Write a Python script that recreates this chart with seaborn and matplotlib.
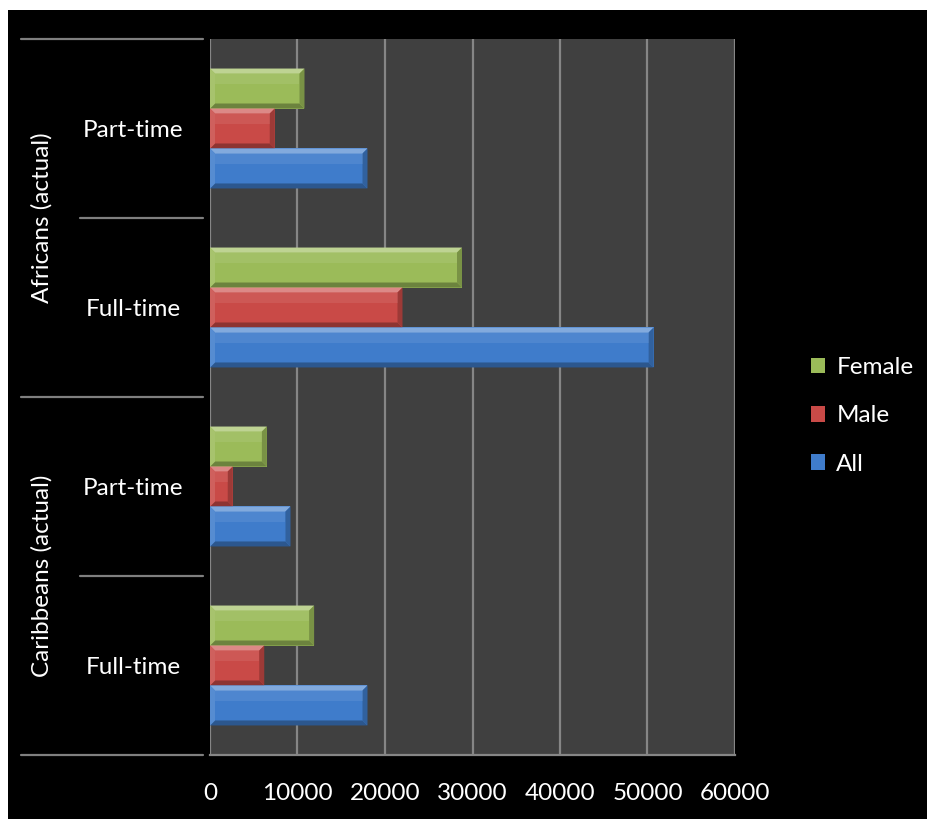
import numpy as np
import pandas as pd
import seaborn as sns
import matplotlib
matplotlib.use("Agg")
import matplotlib.pyplot as plt
from matplotlib.patches import Rectangle, Polygon, Patch
from matplotlib.colors import to_rgb
import matplotlib.transforms as mtransforms

# ---- data -------------------------------------------------------------
groups = ["Africans (actual)", "Africans (actual)", "Caribbeans (actual)", "Caribbeans (actual)"]
statuses = ["Part-time", "Full-time", "Part-time", "Full-time"]
series_names = ["Female", "Male", "All"]
female = [10800, 28800, 6500, 11900]
male = [7400, 22000, 2600, 6200]
all_students = [18000, 50700, 9200, 18000]
x_ticks = [0, 10000, 20000, 30000, 40000, 50000, 60000]

series_colors = {"Female": "#9bbb59", "Male": "#c94a47", "All": "#3f7ccb"}

keys = [f"{g}|{s}" for g, s in zip(groups, statuses)]
rows = []
for name, vals in zip(series_names, [female, male, all_students]):
    for k, v in zip(keys, vals):
        rows.append({"key": k, "series": name, "value": v})
df = pd.DataFrame(rows)

# ---- figure -----------------------------------------------------------
sns.set_theme(style="dark")
plt.rcParams["font.family"] = ["Lato", "DejaVu Sans"]

W, H = 928, 819
fig = plt.figure(figsize=(W / 100, H / 100), dpi=100, facecolor="white")
# black chart area inside a thin white frame
fig.patches.append(Rectangle((8 / W, 0), 1 - 8 / W, 1 - 10 / H,
                             transform=fig.transFigure, facecolor="black",
                             edgecolor="none", zorder=-10))

left, right, top, bottom = 210, 735, 39, 755
ax = fig.add_axes([left / W, 1 - bottom / H, (right - left) / W, (bottom - top) / H])
ax.set_facecolor("#404040")

sns.barplot(data=df, y="key", x="value", hue="series", hue_order=series_names,
            order=keys, palette=series_colors, orient="h", width=0.67,
            saturation=1, edgecolor="none", linewidth=0, legend=False,
            zorder=3, ax=ax)

ax.set_xlim(0, 60000)
ax.set_ylim(3.5, -0.5)
ax.set_xticks(x_ticks)
ax.set_xticklabels([str(t) for t in x_ticks])
ax.set_xlabel("")
ax.set_ylabel("")

grid_col = "#868686"
ax.grid(axis="x", color=grid_col, linewidth=1.6, zorder=1)
ax.grid(axis="y", visible=False)
for side in ["top", "left", "right"]:
    ax.spines[side].set_visible(False)
ax.spines["bottom"].set_color(grid_col)
ax.spines["bottom"].set_linewidth(1.6)

ax.tick_params(axis="x", colors=grid_col, length=8, width=1.6, direction="out",
               labelcolor="white", labelsize=17.5, pad=12)
ax.set_yticks(range(len(keys)))
ax.set_yticklabels(statuses, ha="center", color="white", fontsize=17.5)
ax.tick_params(axis="y", length=0, pad=77 * 0.72)

# ---- bevelled look on each bar --------------------------------------
fig.canvas.draw()
px_x = (right - left) / 60000.0   # pixels per data unit along x
px_y = (bottom - top) / 4.0       # pixels per category along y
bev = 5.0


def mix(c, other, t):
    c = np.array(to_rgb(c))
    o = np.array(to_rgb(other))
    return tuple(c * (1 - t) + o * t)


for bar in list(ax.patches):
    x0, y0 = bar.get_x(), bar.get_y()
    w, h = bar.get_width(), bar.get_height()
    if w <= 0:
        continue
    col = bar.get_facecolor()[:3]
    dx = min(bev / px_x, w / 2)
    dy = bev / px_y
    x1, yt, yb = x0 + w, y0, y0 + h   # y axis inverted: y0 is the visual top
    faces = [
        ([(x0, yt), (x1, yt), (x1 - dx, yt + dy), (x0 + dx, yt + dy)], mix(col, "white", 0.35)),
        ([(x0, yb), (x1, yb), (x1 - dx, yb - dy), (x0 + dx, yb - dy)], mix(col, "black", 0.30)),
        ([(x0, yt), (x0 + dx, yt + dy), (x0 + dx, yb - dy), (x0, yb)], mix(col, "white", 0.12)),
        ([(x1, yt), (x1 - dx, yt + dy), (x1 - dx, yb - dy), (x1, yb)], mix(col, "black", 0.22)),
    ]
    for pts, fc in faces:
        ax.add_patch(Polygon(pts, closed=True, facecolor=fc, edgecolor="none", zorder=4))
    # soft highlight across the upper part of the face
    ax.add_patch(Rectangle((x0 + dx, yt + dy), w - 2 * dx, (h - 2 * dy) * 0.35,
                           facecolor="white", alpha=0.08, edgecolor="none", zorder=4))

# ---- two-level category axis -----------------------------------------
blend = mtransforms.blended_transform_factory(ax.transAxes, ax.transData)
axw = right - left
outer_x0 = (21 - left) / axw
inner_x0 = (80 - left) / axw
line_x1 = (203 - left) / axw
sep_col = "#7f7f7f"
for yb, outer in [(-0.5, True), (0.5, False), (1.5, True), (2.5, False), (3.5, True)]:
    ax.plot([outer_x0 if outer else inner_x0, line_x1], [yb, yb], transform=blend,
            color=sep_col, linewidth=1.6, clip_on=False, zorder=5)

group_labels = ["Africans (actual)", "Caribbeans (actual)"]
for i, g in enumerate(group_labels):
    ax.text((42 - left) / axw, 2 * i + 0.5, g, transform=blend, rotation=90,
            ha="center", va="center", color="white", fontsize=17.5)

# ---- legend -------------------------------------------------------------
handles = [Patch(facecolor=series_colors[n], edgecolor="none", label=n) for n in series_names]
fig.legend(handles=handles, loc="center left", bbox_to_anchor=(789 / W, 1 - 416 / H),
           frameon=False, labelcolor="white", fontsize=17.5, handlelength=0.6,
           handleheight=0.6, handletextpad=0.45, labelspacing=1.12)

fig.savefig("out.png", dpi=100, facecolor=fig.get_facecolor())
